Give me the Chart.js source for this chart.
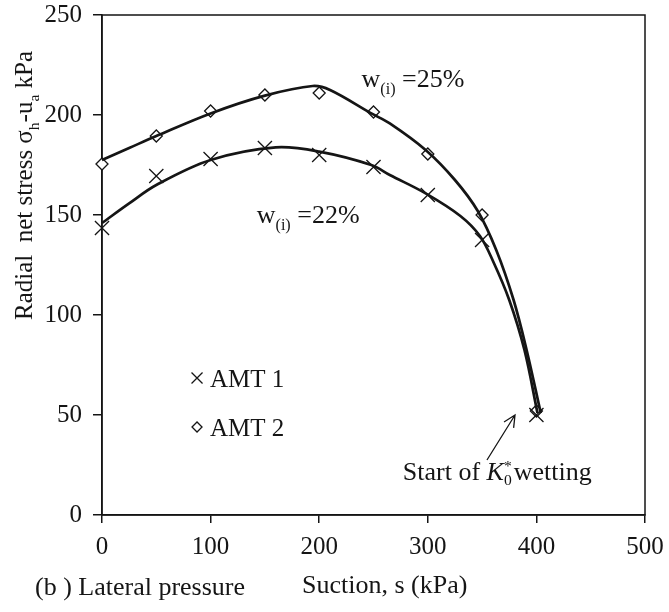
<!DOCTYPE html>
<html>
<head>
<meta charset="utf-8">
<script src="https://cdn.jsdelivr.net/npm/chart.js"></script>
<style>
  body { margin: 0; background: #fff; }
</style>
</head>
<body>
<canvas id="stressChart" width="669" height="612"></canvas>
<script>
// suction steps (kPa) and measured radial net stress (kPa)
var suction = [0, 50, 100, 150, 200, 250, 300, 350, 400];
var amt1 = [143.5, 169.5, 178, 183.5, 180, 174, 160, 137.5, 50];
var amt2 = [175.5, 189.5, 202, 210, 211, 201.5, 180.5, 150, 52];

// trend curves, w(i) = 22% and w(i) = 25%
var curve22S = [0, 25, 50, 100, 160, 200, 248, 265, 298, 330, 348, 360, 375, 389, 401];
var curve22V = [146, 155.8, 165, 177.5, 183.8, 181.7, 175, 170, 160.8, 149.5, 139.5, 127, 107.5, 82.5, 51];
var curve25S = [0, 25, 50, 100, 150, 194, 210, 248, 265, 298, 325, 346, 363, 379, 391, 404];
var curve25V = [177.5, 183.5, 189.5, 200.8, 209.7, 214.5, 212.5, 200.8, 195.8, 182.5, 167.5, 152, 132.5, 107.5, 82.5, 51];

var xTicks = [0, 100, 200, 300, 400, 500];
var yTicks = [0, 50, 100, 150, 200, 250];

var INK = '#151515';
var SERIF = '"Liberation Serif", "Times New Roman", serif';

function pts(xs, ys) {
  return xs.map(function (x, i) { return { x: x, y: ys[i] }; });
}

// text with sub/superscript runs
function drawRuns(ctx, runs, x, y, size) {
  runs.forEach(function (r) {
    if (r.stack) {
      var fs = size * 0.6;
      ctx.font = fs + 'px ' + SERIF;
      ctx.fillText(r.sup, x, y - size * 0.36);
      ctx.fillText(r.sub, x, y + size * 0.2);
      x += Math.max(ctx.measureText(r.sup).width, ctx.measureText(r.sub).width) + 2;
      return;
    }
    var small = r.sub || r.sup;
    var fs2 = small ? size * 0.62 : size;
    ctx.font = (r.italic ? 'italic ' : '') + fs2 + 'px ' + SERIF;
    var dy = r.sub ? size * 0.26 : (r.sup ? -size * 0.38 : 0);
    ctx.fillText(r.t, x, y + dy);
    x += ctx.measureText(r.t).width;
  });
  return x;
}

function cross(ctx, x, y, r) {
  ctx.beginPath();
  ctx.moveTo(x - r, y - r); ctx.lineTo(x + r, y + r);
  ctx.moveTo(x - r, y + r); ctx.lineTo(x + r, y - r);
  ctx.stroke();
}

function diamond(ctx, x, y, r) {
  ctx.beginPath();
  ctx.moveTo(x - r, y); ctx.lineTo(x, y - r); ctx.lineTo(x + r, y); ctx.lineTo(x, y + r);
  ctx.closePath();
  ctx.fillStyle = '#fff';
  ctx.fill();
  ctx.stroke();
}

var decor = {
  id: 'decor',
  beforeDatasetsDraw: function (chart) {
    var ctx = chart.ctx, a = chart.chartArea;
    ctx.save();
    ctx.strokeStyle = INK;
    ctx.lineWidth = 1.5;
    ctx.strokeRect(a.left, a.top, a.right - a.left, a.bottom - a.top);
    ctx.restore();
  },
  afterDraw: function (chart) {
    var ctx = chart.ctx, xs = chart.scales.x, ys = chart.scales.y;
    var px = function (v) { return xs.getPixelForValue(v); };
    var py = function (v) { return ys.getPixelForValue(v); };
    ctx.save();
    ctx.fillStyle = INK;
    ctx.strokeStyle = INK;
    ctx.textBaseline = 'alphabetic';

    // curve labels
    drawRuns(ctx, [{ t: 'w' }, { t: '(i)', sub: true }, { t: ' =25%' }], px(239), py(214), 26);
    drawRuns(ctx, [{ t: 'w' }, { t: '(i)', sub: true }, { t: ' =22%' }], px(142.5), py(146), 26);

    // legend
    ctx.lineWidth = 1.3;
    cross(ctx, px(87.5), py(68.5), 5.5);
    ctx.fillStyle = INK;
    drawRuns(ctx, [{ t: 'AMT 1' }], px(99.5), py(68.5) + 8.5, 25);
    diamond(ctx, px(87.5), py(44), 5);
    ctx.fillStyle = INK;
    drawRuns(ctx, [{ t: 'AMT 2' }], px(99.5), py(44) + 8.5, 25);

    // wetting start note and arrow
    drawRuns(ctx, [{ t: 'Start of ' }, { t: 'K', italic: true }, { stack: true, sup: '*', sub: '0' }, { t: 'wetting' }], px(277), py(17.5), 26);
    var x0 = px(354.5), y0 = py(27.5), x1 = px(380.3), y1 = py(50);
    var ang = Math.atan2(y1 - y0, x1 - x0);
    ctx.lineWidth = 1.3;
    ctx.beginPath();
    ctx.moveTo(x0, y0); ctx.lineTo(x1, y1);
    ctx.moveTo(x1 - 13 * Math.cos(ang - 0.45), y1 - 13 * Math.sin(ang - 0.45));
    ctx.lineTo(x1, y1);
    ctx.lineTo(x1 - 13 * Math.cos(ang + 0.45), y1 - 13 * Math.sin(ang + 0.45));
    ctx.stroke();

    // axis titles
    drawRuns(ctx, [{ t: 'Suction, s (kPa)' }], 302, 593, 26);
    drawRuns(ctx, [{ t: '(b ) Lateral pressure' }], 35, 595, 26);

    ctx.save();
    ctx.translate(32, 320);
    ctx.rotate(-Math.PI / 2);
    drawRuns(ctx, [{ t: 'Radial  net stress \u03c3' }, { t: 'h', sub: true }, { t: '-u' }, { t: 'a', sub: true }, { t: ' kPa' }], 0, 0, 25);
    ctx.restore();

    ctx.restore();
  }
};

var tickFont = { family: SERIF, size: 25 };

new Chart(document.getElementById('stressChart'), {
  type: 'scatter',
  data: {
    datasets: [
      {
        label: 'w(i) = 22%',
        data: pts(curve22S, curve22V),
        showLine: true,
        borderColor: INK,
        borderWidth: 2.7,
        pointRadius: 0,
        tension: 0.35,
        clip: false
      },
      {
        label: 'w(i) = 25%',
        data: pts(curve25S, curve25V),
        showLine: true,
        borderColor: INK,
        borderWidth: 2.7,
        pointRadius: 0,
        tension: 0.35,
        clip: false
      },
      {
        label: 'AMT 1',
        data: pts(suction, amt1),
        pointStyle: 'crossRot',
        pointRadius: 10,
        borderColor: INK,
        borderWidth: 1.3,
        clip: false
      },
      {
        label: 'AMT 2',
        data: pts(suction, amt2),
        pointStyle: 'rectRot',
        pointRadius: 6,
        backgroundColor: '#fff',
        borderColor: INK,
        borderWidth: 1.3,
        clip: false
      }
    ]
  },
  options: {
    responsive: false,
    animation: false,
    devicePixelRatio: 1,
    layout: { padding: { top: 15, right: 24, left: 0, bottom: 0 } },
    plugins: { legend: { display: false }, tooltip: { enabled: false } },
    scales: {
      x: {
        type: 'linear',
        min: 0,
        max: 500,
        afterBuildTicks: function (s) { s.ticks = xTicks.map(function (v) { return { value: v }; }); },
        afterFit: function (s) { s.height = 97; s.paddingLeft = 0; s.paddingRight = 0; },
        grid: { drawOnChartArea: false, drawTicks: true, tickLength: 8, color: INK, lineWidth: 1.5 },
        border: { color: INK, width: 1.5 },
        ticks: { font: tickFont, color: INK, padding: 9, maxRotation: 0 }
      },
      y: {
        type: 'linear',
        min: 0,
        max: 250,
        afterBuildTicks: function (s) { s.ticks = yTicks.map(function (v) { return { value: v }; }); },
        afterFit: function (s) { s.width = 102; s.paddingTop = 0; s.paddingBottom = 0; },
        grid: { drawOnChartArea: false, drawTicks: true, tickLength: 9, color: INK, lineWidth: 1.5 },
        border: { color: INK, width: 1.5 },
        ticks: { font: tickFont, color: INK, padding: 11 }
      }
    }
  },
  plugins: [decor]
});
</script>
</body>
</html>
